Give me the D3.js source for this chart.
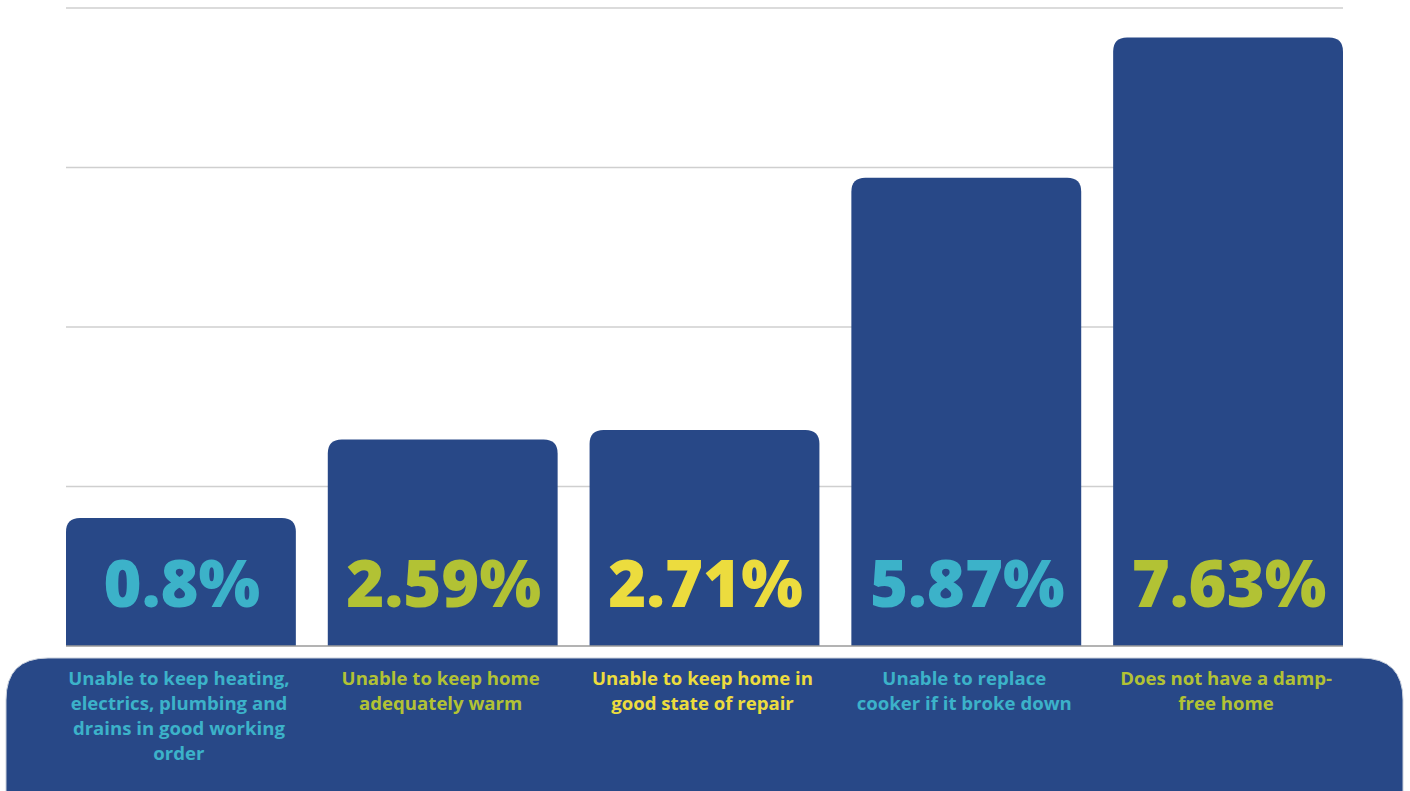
<!DOCTYPE html>
<html>
<head>
<meta charset="utf-8">
<script src="https://cdn.jsdelivr.net/npm/d3@7"></script>
<style>
  html, body { margin: 0; padding: 0; background: #ffffff; }
  svg { display: block; }
</style>
</head>
<body>
<svg id="chart" width="1410" height="791"></svg>
<script>
// Share of households lacking each item (percent)
const categories = [
  "Unable to keep heating,\nelectrics, plumbing and\ndrains in good working\norder",
  "Unable to keep home\nadequately warm",
  "Unable to keep home in\ngood state of repair",
  "Unable to replace\ncooker if it broke down",
  "Does not have a damp-\nfree home"
];
const values = [0.8, 2.59, 2.71, 5.87, 7.63];
const valueLabels = ["0.8%", "2.59%", "2.71%", "5.87%", "7.63%"];
const gridTicks = [2, 4, 6, 8];
const labelColors = ["#3cb2c9", "#b2c234", "#ecdc3e", "#3cb2c9", "#b2c234"];

const BAR = "#284887";
const W = 1410, H = 791;
const left = 66, right = 1343, baseY = 646, topY = 8;
const minBarPx = 128;   // keep room for the value label inside short bars
const radius = 14;

const svg = d3.select("#chart");

const x = d3.scaleBand()
  .domain(d3.range(values.length))
  .range([left, right])
  .paddingInner(0.122)
  .paddingOuter(0);

const y = d3.scaleLinear().domain([0, 8]).range([baseY, topY]);

// horizontal gridlines
svg.append("g")
  .selectAll("line")
  .data(gridTicks)
  .join("line")
  .attr("x1", left).attr("x2", right)
  .attr("y1", d => y(d)).attr("y2", d => y(d))
  .attr("stroke", "#cfcfcf")
  .attr("stroke-width", 1.6);

// bars with rounded top corners, square bottoms
function topRounded(x0, y0, w, h, r) {
  return `M${x0},${y0 + h}V${y0 + r}Q${x0},${y0} ${x0 + r},${y0}` +
         `H${x0 + w - r}Q${x0 + w},${y0} ${x0 + w},${y0 + r}V${y0 + h}Z`;
}

const barTop = v => Math.min(y(v), baseY - minBarPx);

svg.append("g")
  .selectAll("path")
  .data(values)
  .join("path")
  .attr("d", (v, i) => {
    const t = barTop(v);
    return topRounded(x(i), t, x.bandwidth(), baseY - t, radius);
  })
  .attr("fill", BAR);

// baseline
svg.append("line")
  .attr("x1", left).attr("x2", right)
  .attr("y1", baseY).attr("y2", baseY)
  .attr("stroke", "#9a9a9a")
  .attr("stroke-width", 1.6);

// value labels
svg.append("g")
  .selectAll("text")
  .data(valueLabels)
  .join("text")
  .attr("x", (d, i) => x(i) + x.bandwidth() / 2 + 1)
  .attr("y", 607)
  .attr("text-anchor", "middle")
  .attr("font-family", "'Open Sans', sans-serif")
  .attr("font-weight", 800)
  .attr("font-size", 65)
  .attr("fill", (d, i) => labelColors[i])
  .text(d => d);

// lower panel holding the category labels
const px0 = 6, px1 = 1403, py0 = 658, pr = 42;
svg.append("path")
  .attr("d", `M${px0},${H + 10}V${py0 + pr}Q${px0},${py0} ${px0 + pr},${py0}` +
             `H${px1 - pr}Q${px1},${py0} ${px1},${py0 + pr}V${H + 10}Z`)
  .attr("fill", BAR)
  .attr("stroke", "#c9d0dc")
  .attr("stroke-width", 1);

// category labels
const catG = svg.append("g")
  .selectAll("text")
  .data(categories)
  .join("text")
  .attr("text-anchor", "middle")
  .attr("font-family", "'Open Sans', sans-serif")
  .attr("font-weight", 700)
  .attr("font-size", 18.6)
  .attr("fill", (d, i) => labelColors[i]);

catG.each(function (d, i) {
  const t = d3.select(this);
  d.split("\n").forEach((line, k) => {
    t.append("tspan")
      .attr("x", x(i) + x.bandwidth() / 2 - 2)
      .attr("y", 685 + k * 25)
      .text(line);
  });
});
</script>
</body>
</html>
